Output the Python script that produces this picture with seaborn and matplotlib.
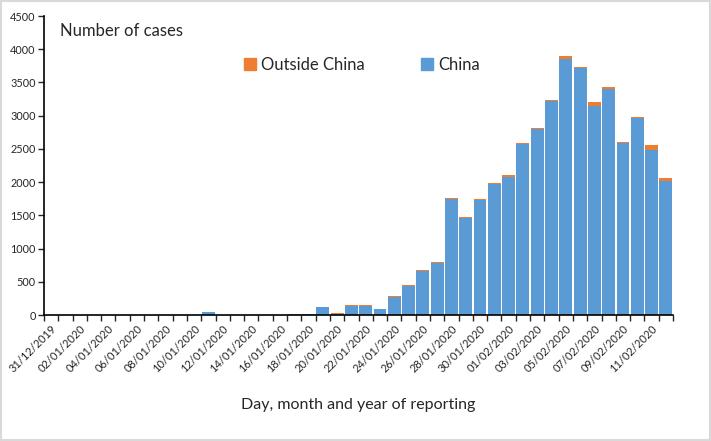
import matplotlib
matplotlib.use('Agg')

import matplotlib.pyplot as plt
import seaborn as sns
import pandas as pd
import numpy as np
from matplotlib.patches import Patch

# daily reported cases, 31/12/2019 .. 12/02/2020
dates = pd.date_range("2019-12-31", "2020-02-12", freq="D").strftime("%d/%m/%Y").tolist()

china = [0, 0, 0, 0, 0, 0, 0, 0, 0, 0, 0, 41, 0, 0, 0, 0, 0, 4, 17, 125,
         20, 139, 140, 90, 271, 436, 657, 778, 1741, 1460, 1731, 1971, 2072, 2574, 2794, 3216,
         3848, 3717, 3146, 3397, 2584, 2965, 2483, 2012]
outside = [0, 0, 0, 0, 0, 0, 0, 0, 0, 0, 0, 0, 0, 0, 0, 0, 0, 13, 0, 0,
           10, 12, 11, 0, 20, 15, 20, 20, 20, 15, 15, 16, 35, 15, 20, 24,
           50, 16, 60, 34, 20, 15, 76, 50]

df = pd.DataFrame({"date": dates, "China": china, "Outside China": outside})
df["total"] = df["China"] + df["Outside China"]

sns.set_style("white")
plt.rcParams['font.family'] = ['Lato', 'DejaVu Sans']

fig = plt.figure(figsize=(7.11, 4.41), dpi=100)
ax = fig.add_axes([0.0619, 0.2857, 0.8847, 0.678])

blue = "#5B9BD5"
orange = "#ED7D31"

# stacked: total in orange underneath, China drawn over it in blue
sns.barplot(data=df, x="date", y="total", color=orange, width=0.9,
            edgecolor="none", saturation=1, ax=ax)
sns.barplot(data=df, x="date", y="China", color=blue, width=0.9,
            edgecolor="none", saturation=1, ax=ax)

ax.set_xlim(-0.5, len(dates) - 0.5)
ax.set_ylim(0, 4500)
ax.set_yticks(np.arange(0, 4501, 500))
ax.tick_params(axis='y', labelsize=7.8, length=4, width=1, direction='out', left=True, pad=2)

# tick marks between categories, labels every second day
ax.set_xticks(np.arange(-0.5, len(dates), 1), minor=True)
ax.set_xticks(np.arange(0, len(dates), 2))
ax.set_xticklabels(dates[::2], rotation=45, ha='right', rotation_mode='anchor', fontsize=8)
ax.tick_params(axis='x', which='major', length=0, pad=6)
ax.tick_params(axis='x', which='minor', length=4, width=1, direction='out', bottom=True)

ax.set_xlabel("Day, month and year of reporting", fontsize=11.5, labelpad=17)
ax.set_ylabel("")

for s in ["top", "right"]:
    ax.spines[s].set_visible(False)
for s in ["left", "bottom"]:
    ax.spines[s].set_color("black")
    ax.spines[s].set_linewidth(1.2)

fig.text(60 / 711, 1 - 31 / 441, "Number of cases", fontsize=12, va='center', ha='left')

handles = [Patch(color=orange), Patch(color=blue)]
fig.legend(handles, ["Outside China", "China"], loc='center left',
           bbox_to_anchor=(229 / 711, 1 - 65 / 441), ncol=2, frameon=False,
           fontsize=12, handlelength=0.7, handleheight=0.7, handletextpad=0.3,
           columnspacing=3.4)

# light grey outer frame
fig.patches.append(plt.Rectangle((0.001, 0.002), 0.997, 0.996, transform=fig.transFigure,
                                 fill=False, edgecolor="#D9D9D9", linewidth=1.5))

fig.savefig("out.png", dpi=100)
plt.close()
